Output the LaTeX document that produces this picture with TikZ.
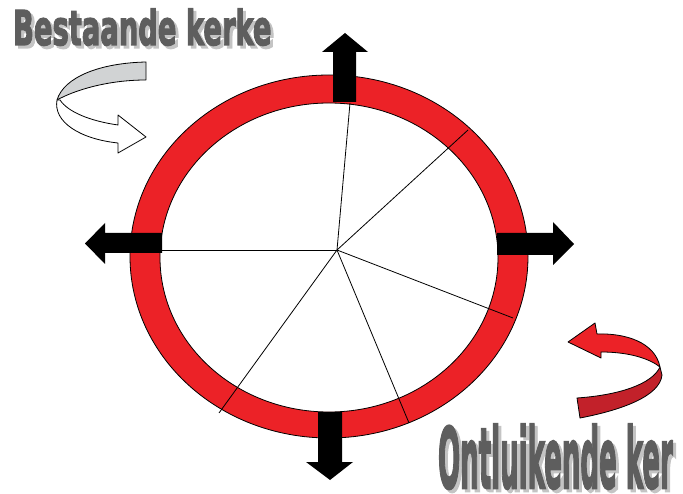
\documentclass[tikz,border=0pt]{standalone}
\usepackage{fontspec}
\newfontfamily\labelfont{DejaVu Sans}[BoldFeatures={FakeBold=3}]
\usetikzlibrary{calc}
\definecolor{ringred}{HTML}{EC2227}
\definecolor{bandred}{HTML}{C2212A}
\definecolor{bandgray}{HTML}{D1D3D4}
\definecolor{txtgray}{HTML}{5E5E5E}
\definecolor{shadowgray}{HTML}{C4C4C4}
\tikzset{
  ringline/.style ={draw=black, line width=0.8pt},
  spoke/.style    ={draw=black, line width=0.8pt},
  outarrow/.style ={fill=black},
  ribbon/.style   ={draw=black, line width=0.8pt, line join=round},
  title/.style    ={inner sep=0pt, text depth=0pt, text=txtgray, font=\labelfont\bfseries},
  titleshadow/.style={title, text=shadowgray},
}
\begin{document}
\begin{tikzpicture}[x=1pt, y=-1pt]
  \useasboundingbox (0,0) rectangle (683,494);
  % ring
  \coordinate (oc) at (329,256.5);
  \coordinate (ic) at (329,257.5);
  \fill[ringred, even odd rule] (oc) ellipse [x radius=199, y radius=181.5]
                                (ic) ellipse [x radius=169, y radius=154.5];
  % spokes
  \coordinate (hub) at (337,250);
  \coordinate (s1) at (350,103);
  \coordinate (s2) at (468,130);
  \coordinate (s3) at (513,318);
  \coordinate (s4) at (409,423);
  \coordinate (s5) at (219,413);
  \coordinate (s6) at (160,250);
  \foreach \s in {s1,s2,s3,s4,s5,s6}
    \draw[spoke] (hub) -- (\s);
  \draw[ringline] (oc) ellipse [x radius=199, y radius=181.5];
  \draw[ringline] (ic) ellipse [x radius=169, y radius=154.5];
  % arrows out of the ring
  \fill[outarrow] (333,102) -- (333,52) -- (322,52) -- (345,33) -- (368,52) -- (356,52) -- (356,102) -- cycle;
  \fill[outarrow] (162,233) -- (105,233) -- (105,223) -- (85,243.5) -- (105,264) -- (105,253) -- (162,253) -- cycle;
  \fill[outarrow] (497,233) -- (553,233) -- (553,222) -- (574,244) -- (553,265) -- (553,255) -- (497,255) -- cycle;
  \fill[outarrow] (318,412) -- (318,462) -- (306,462) -- (330,480) -- (353,462) -- (342,462) -- (342,412) -- cycle;
  % turning arrow, top left
  \filldraw[ribbon, fill=bandgray] (146,62) .. controls (100,63) and (64,77) .. (57,100)
    .. controls (75,90) and (108,80) .. (146,80) -- cycle;
  \filldraw[ribbon, fill=white] (57,100) .. controls (53,122) and (80,139) .. (118,143)
    -- (118,153) -- (146,137) -- (118,115) -- (118,125)
    .. controls (90,121) and (68,112) .. (60,100) -- cycle;
  % turning arrow, bottom right
  \filldraw[ribbon, fill=ringred] (568,342) -- (595,323) -- (597,334)
    .. controls (625,333) and (655,342) .. (660,367)
    .. controls (650,359) and (630,352) .. (601,352) -- (601,358) -- cycle;
  \filldraw[ribbon, fill=bandred] (660,367) .. controls (652,384) and (620,395) .. (577,398)
    -- (580,418) .. controls (622,410) and (660,396) .. (662,375) -- cycle;
  % labels
  \node[titleshadow, anchor=base west, xscale=0.57, font=\labelfont\bfseries\fontsize{48}{48}\selectfont] (bestS) at (16,48) {Bestaande kerke};
  \node[title, anchor=base west, xscale=0.57, font=\labelfont\bfseries\fontsize{48}{48}\selectfont] (best) at (13,45) {Bestaande kerke};
  \node[titleshadow, anchor=base west, xscale=0.31, font=\labelfont\bfseries\fontsize{84}{84}\selectfont] (ontS) at (441,491) {Ontluikende ker};
  \node[title, anchor=base west, xscale=0.31, font=\labelfont\bfseries\fontsize{84}{84}\selectfont] (ont) at (438,488) {Ontluikende ker};
\end{tikzpicture}
\end{document}
